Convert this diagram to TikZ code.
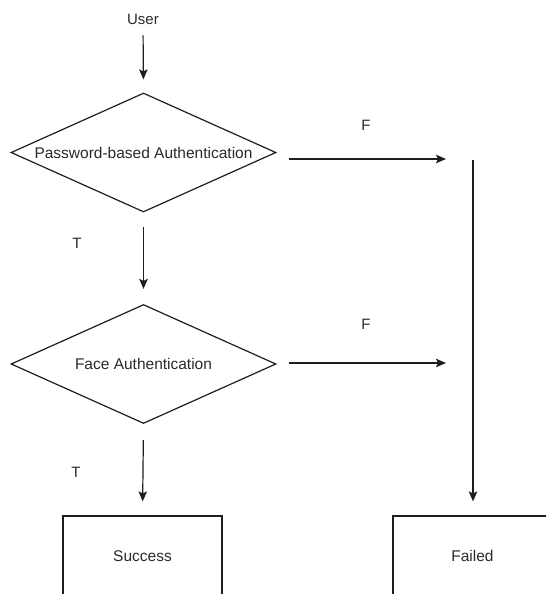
\documentclass[tikz,border=0pt]{standalone}
\usepackage{fontspec}
\setmainfont{Liberation Sans}
\usetikzlibrary{shapes.geometric,arrows.meta}
\definecolor{ink}{HTML}{1E1E1E}
\definecolor{txt}{HTML}{2A2A2A}
\tikzset{
  lbl/.style={text=txt,font=\fontsize{15}{18}\selectfont,inner sep=0pt},
  decision/.style={diamond,draw=ink,line width=1.2pt,inner sep=0pt,minimum width=265pt,minimum height=119pt,aspect=2.23,text=txt,font=\fontsize{15.5}{18}\selectfont},
  endbox/.style={rectangle,draw=ink,line width=1.2pt,minimum width=159pt,minimum height=80pt,text=txt,font=\fontsize{15.5}{18}\selectfont},
  arr/.style={draw=ink,line width=1.2pt,-{Stealth[length=10pt,width=8.5pt,inset=2pt]}}
}
\begin{document}
\begin{tikzpicture}[x=1pt,y=-1pt]
\useasboundingbox (0,0) rectangle (546,594);
\clip (0,0) rectangle (546,594);
\fill[white] (0,0) rectangle (546,594);
\node[lbl] (user) at (143,19) {User};
\node[decision] (d1) at (143.5,152.5) {Password-based Authentication};
\node[decision] (d2) at (143.5,364) {Face Authentication};
\node[endbox] (succ) at (142.5,556) {Success};
\node[endbox] (fail) at (472.5,556) {Failed};
\node[lbl] (tl1) at (77,243) {T};
\node[lbl] (tl2) at (76,472) {T};
\node[lbl] (fl1) at (366,125) {F};
\node[lbl] (fl2) at (366,324) {F};
\coordinate (f1) at (446,159);
\coordinate (f2) at (446,363);
\coordinate (ftop) at (473,160);
\draw[arr,shorten <=11pt,shorten >=13pt] (user.south) -- (d1.north);
\draw[arr,shorten <=14pt,shorten >=15pt] (d1.south) -- (d2.north);
\draw[arr,shorten <=16pt,shorten >=14pt] (d2.south) -- (succ.north);
\draw[arr,shorten <=12pt] (d1.east |- f1) -- (f1);
\draw[arr,shorten <=12pt] (d2.east |- f2) -- (f2);
\draw[arr,shorten >=14pt] (ftop) -- (ftop |- fail.north);
\end{tikzpicture}
\end{document}
